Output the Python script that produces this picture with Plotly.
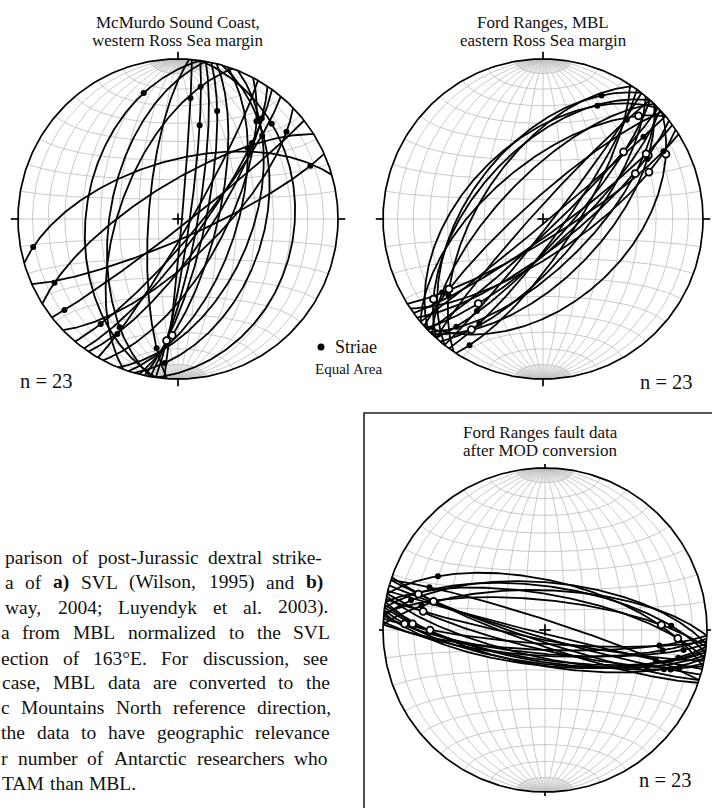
import numpy as np
import plotly.graph_objects as go

W, H = 712, 808

# ---------------- data ----------------
# a) McMurdo Sound Coast, western Ross Sea margin: fault planes (strike, right-hand rule; dip)
mcm_strike = [188, 190, 200, 184, 30, 5, 8, 10, 12, 14, 36, 18, 22, 16, 8, 28, 34, 40, 46, 52, 66, 254, 238]
mcm_dip = [42, 55, 60, 75, 84, 88, 84, 80, 76, 70, 78, 60, 52, 45, 28, 66, 74, 80, 70, 86, 80, 60, 72]
# striae: position along each plane, angle from the strike direction (deg)
mcm_striae = [150, 30, 160, 20, 160, 25, 40, 155, 30, 150, 35, 45, 35, 165, 40, 25, 20, 160, 15, 170, 12, 10, 15]
mcm_solid = [1, 1, 1, 1, 1, 1, 1, 0, 1, 0, 1, 1, 1, 1, 1, 1, 1, 1, 1, 1, 1, 1, 1]

# b) Ford Ranges, MBL, eastern Ross Sea margin
ford_strike = [218, 222, 226, 214, 230, 224, 48, 44, 40, 52, 36, 46, 50, 42, 56, 38, 54, 45, 33, 58, 47, 222, 228]
ford_dip = [52, 55, 50, 58, 62, 68, 46, 60, 70, 75, 80, 84, 88, 78, 72, 86, 82, 66, 74, 80, 76, 85, 80]
ford_striae = [160, 20, 150, 30, 165, 25, 20, 30, 160, 25, 155, 35, 20, 165, 30, 150, 25, 40, 170, 15, 145, 160, 28]
ford_solid = [1, 0, 1, 1, 0, 1, 0, 1, 0, 0, 1, 0, 1, 1, 0, 1, 0, 0, 1, 1, 0, 1, 0]

# c) Ford Ranges fault data after MOD conversion
mod_strike = [275, 278, 272, 280, 283, 276, 106, 108, 104, 288, 109, 103, 95, 98, 100, 92, 97, 102, 94, 99, 96, 101, 93]
mod_dip = [66, 68, 70, 72, 65, 75, 86, 84, 88, 85, 82, 80, 78, 75, 72, 80, 73, 76, 83, 74, 72, 85, 77]
mod_striae = [18, 155, 25, 160, 30, 150, 20, 160, 30, 25, 150, 15, 15, 160, 25, 30, 165, 20, 150, 35, 18, 155, 28]
mod_solid = [1, 1, 1, 0, 1, 0, 1, 0, 1, 1, 0, 1, 1, 0, 1, 1, 0, 1, 0, 1, 1, 0, 1]

net_titles = [["McMurdo Sound Coast,", "western Ross Sea margin"],
              ["Ford Ranges, MBL", "eastern Ross Sea margin"],
              ["Ford Ranges fault data", "after MOD conversion"]]
n_label = "n = 23"
legend_striae = "Striae"
legend_proj = "Equal Area"

caption_lines = [
    "parison of post-Jurassic dextral strike-",
    "a of a) SVL (Wilson, 1995) and b)",
    "way, 2004; Luyendyk et al. 2003).",
    "a from MBL normalized to the SVL",
    "ection of 163°E. For discussion, see",
    "case, MBL data are converted to the",
    "c Mountains North reference direction,",
    "the data to have geographic relevance",
    "r number of Antarctic researchers who",
    "TAM than MBL.",
]
bold_words = {"a)", "b)"}

# ---------------- layout constants ----------------
SERIF = "Liberation Serif"
INK = "#111111"
GRID = "rgb(188,188,188)"
CAPGRID = "rgb(205,205,205)"
nets = [  # center x, center y (px from top), radius px, half-size of axis box px
    dict(cx=178, cy=219, R=160, h=168),
    dict(cx=543, cy=219, R=160, h=168),
    dict(cx=545, cy=630, R=162, h=166),
]


# ---------------- projection helpers ----------------
def to_xy(E, N, D):
    k = 1.0 / np.sqrt(1.0 + D)
    return E * k, N * k


def plane_point(strike, dip, a):
    s, d, a = np.radians(strike), np.radians(dip), np.radians(a)
    dd = s + np.pi / 2
    E = np.cos(a) * np.sin(s) + np.sin(a) * np.cos(d) * np.sin(dd)
    N = np.cos(a) * np.cos(s) + np.sin(a) * np.cos(d) * np.cos(dd)
    D = np.sin(a) * np.sin(d)
    return to_xy(E, N, D)


def add_seg(xs, ys, x, y):
    xs.extend(list(x) + [None])
    ys.extend(list(y) + [None])


def grid_lines():
    xs, ys = [], []
    phi = np.radians(np.linspace(-90, 90, 181))
    for lam in range(-80, 90, 10):
        l = np.radians(lam)
        add_seg(xs, ys, *to_xy(np.cos(phi) * np.sin(l), np.sin(phi), np.cos(phi) * np.cos(l)))
    lam = np.radians(np.linspace(-90, 90, 181))
    for p in range(-80, 90, 10):
        ph = np.radians(p)
        add_seg(xs, ys, *to_xy(np.cos(ph) * np.sin(lam), np.sin(ph) * np.ones_like(lam),
                               np.cos(ph) * np.cos(lam)))
    return xs, ys


def cap_lines():
    xs, ys = [], []
    for lam in range(-88, 90, 2):
        if lam % 10 == 0:
            continue
        l = np.radians(lam)
        for sgn in (1, -1):
            ph = np.radians(np.linspace(80, 90, 11)) * sgn
            add_seg(xs, ys, *to_xy(np.cos(ph) * np.sin(l), np.sin(ph), np.cos(ph) * np.cos(l)))
    return xs, ys


def frame_lines():
    t = np.linspace(0, 2 * np.pi, 361)
    xs, ys = [], []
    add_seg(xs, ys, np.cos(t), np.sin(t))
    tick, c = 0.045, 0.035
    for ang in (0, 90, 180, 270):
        a = np.radians(ang)
        add_seg(xs, ys, [np.sin(a), (1 + tick) * np.sin(a)], [np.cos(a), (1 + tick) * np.cos(a)])
    add_seg(xs, ys, [-c, c], [0, 0])
    add_seg(xs, ys, [0, 0], [-c, c])
    return xs, ys


fig = go.Figure()
datasets = [
    (mcm_strike, mcm_dip, mcm_striae, mcm_solid),
    (ford_strike, ford_dip, ford_striae, ford_solid),
    (mod_strike, mod_dip, mod_striae, mod_solid),
]
gx, gy = grid_lines()
cx_, cy_ = cap_lines()
fx, fy = frame_lines()
for i, (strk, dip, pos, solid) in enumerate(datasets):
    ax = "" if i == 0 else str(i + 1)
    xa, ya = "x" + ax, "y" + ax
    fig.add_trace(go.Scatter(x=cx_, y=cy_, mode="lines", line=dict(color=CAPGRID, width=0.45),
                             xaxis=xa, yaxis=ya, hoverinfo="skip"))
    fig.add_trace(go.Scatter(x=gx, y=gy, mode="lines", line=dict(color=GRID, width=0.8),
                             xaxis=xa, yaxis=ya, hoverinfo="skip"))
    fig.add_trace(go.Scatter(x=fx, y=fy, mode="lines", line=dict(color="black", width=1.7),
                             xaxis=xa, yaxis=ya, hoverinfo="skip"))
    px_, py_ = [], []
    av = np.linspace(0, 180, 181)
    for s, d in zip(strk, dip):
        add_seg(px_, py_, *plane_point(s, d, av))
    fig.add_trace(go.Scatter(x=px_, y=py_, mode="lines", line=dict(color="black", width=1.8),
                             xaxis=xa, yaxis=ya, hoverinfo="skip"))
    sx, sy = plane_point(np.array(strk), np.array(dip), np.array(pos))
    solid = np.array(solid, dtype=bool)
    fig.add_trace(go.Scatter(x=sx[~solid], y=sy[~solid], mode="markers",
                             marker=dict(size=7, color="white", line=dict(color="black", width=1.8)),
                             xaxis=xa, yaxis=ya, hoverinfo="skip"))
    fig.add_trace(go.Scatter(x=sx[solid], y=sy[solid], mode="markers",
                             marker=dict(size=6, color="black"),
                             xaxis=xa, yaxis=ya, hoverinfo="skip"))

layout_axes = {}
for i, n in enumerate(nets):
    ax = "" if i == 0 else str(i + 1)
    rng = n["h"] / n["R"]
    layout_axes["xaxis" + ax] = dict(domain=[(n["cx"] - n["h"]) / W, (n["cx"] + n["h"]) / W],
                                     range=[-rng, rng], visible=False, fixedrange=True)
    layout_axes["yaxis" + ax] = dict(domain=[1 - (n["cy"] + n["h"]) / H, 1 - (n["cy"] - n["h"]) / H],
                                     range=[-rng, rng], visible=False, fixedrange=True)


def ann(text, x, y, size, xanchor="center", color=INK):
    return dict(text=text, x=x / W, y=1 - y / H, xref="paper", yref="paper",
                xanchor=xanchor, yanchor="middle", showarrow=False, borderpad=0, borderwidth=0,
                font=dict(family=SERIF, size=size, color=color))


annotations = []
title_pos = [(178, 22, 40), (543, 22, 40), (540, 432, 450)]
for (tx, y1, y2), lines in zip(title_pos, net_titles):
    annotations.append(ann(lines[0], tx, y1, 17))
    annotations.append(ann(lines[1], tx, y2, 17))
annotations.append(ann(n_label, 20, 381, 20.5, "left"))
annotations.append(ann(n_label, 693, 382, 20.5, "right"))
annotations.append(ann(n_label, 692, 780, 20.5, "right"))
annotations.append(ann(legend_striae, 335, 347, 18, "left"))
annotations.append(ann(legend_proj, 348, 369, 15))

# caption: justified paragraph, placed word by word (Times metrics)
TW = {' ': 250, '!': 333, '(': 333, ')': 333, ',': 250, '-': 333, '.': 250, ';': 278, ':': 278,
      '°': 400}
for ch in "0123456789":
    TW[ch] = 500
TW.update(dict(zip("ABCDEFGHIJKLMNOPQRSTUVWXYZ",
                   [722, 667, 667, 722, 611, 556, 722, 722, 333, 389, 722, 611, 889, 722, 722, 556,
                    722, 667, 556, 611, 722, 722, 944, 722, 722, 611])))
TW.update(dict(zip("abcdefghijklmnopqrstuvwxyz",
                   [444, 500, 444, 500, 444, 333, 500, 500, 278, 278, 500, 278, 778, 500, 500, 500,
                    500, 333, 389, 278, 500, 500, 722, 500, 500, 444])))
TWB = {'a': 500, 'b': 556, ')': 333}
CAP = 19.5


def word_w(w, bold):
    tab = TWB if bold else {}
    return sum(tab.get(c, TW.get(c, 500)) for c in w) * CAP / 1000.0


cap_left = [5, 5, 5, 1, 1, 2, 1, 1, 1, 2]
cap_right = [322, 323, 328, 330, 328, 330, 331, 330, 328, None]
cap_y = [557, 582, 607, 632, 658, 682, 707, 732, 758, 783]
for line, L, Rr, y in zip(caption_lines, cap_left, cap_right, cap_y):
    words = line.split(" ")
    widths = [word_w(w, w in bold_words) for w in words]
    if Rr is None:
        gap = 250 * CAP / 1000.0
    else:
        gap = (Rr - L - sum(widths)) / (len(words) - 1)
    x = L
    for w, wd in zip(words, widths):
        txt = "<b>" + w + "</b>" if w in bold_words else w
        annotations.append(ann(txt, x, y, CAP, "left"))
        x += wd + gap

shapes = [
    dict(type="rect", xref="paper", yref="paper", x0=364 / W, x1=1.02, y0=-0.02, y1=1 - 413 / H,
         line=dict(color="#222222", width=1.6), fillcolor="rgba(0,0,0,0)", layer="below"),
    dict(type="circle", xref="paper", yref="paper", x0=317.5 / W, x1=324.5 / W,
         y0=1 - 350.5 / H, y1=1 - 343.5 / H, fillcolor="black", line=dict(color="black", width=0)),
]

fig.update_layout(
    width=W, height=H, autosize=False,
    margin=dict(l=0, r=0, t=0, b=0, pad=0),
    paper_bgcolor="white", plot_bgcolor="rgba(0,0,0,0)",
    showlegend=False,
    annotations=annotations,
    shapes=shapes,
    **layout_axes,
)

fig.write_html("out.html", config={"displayModeBar": False})
